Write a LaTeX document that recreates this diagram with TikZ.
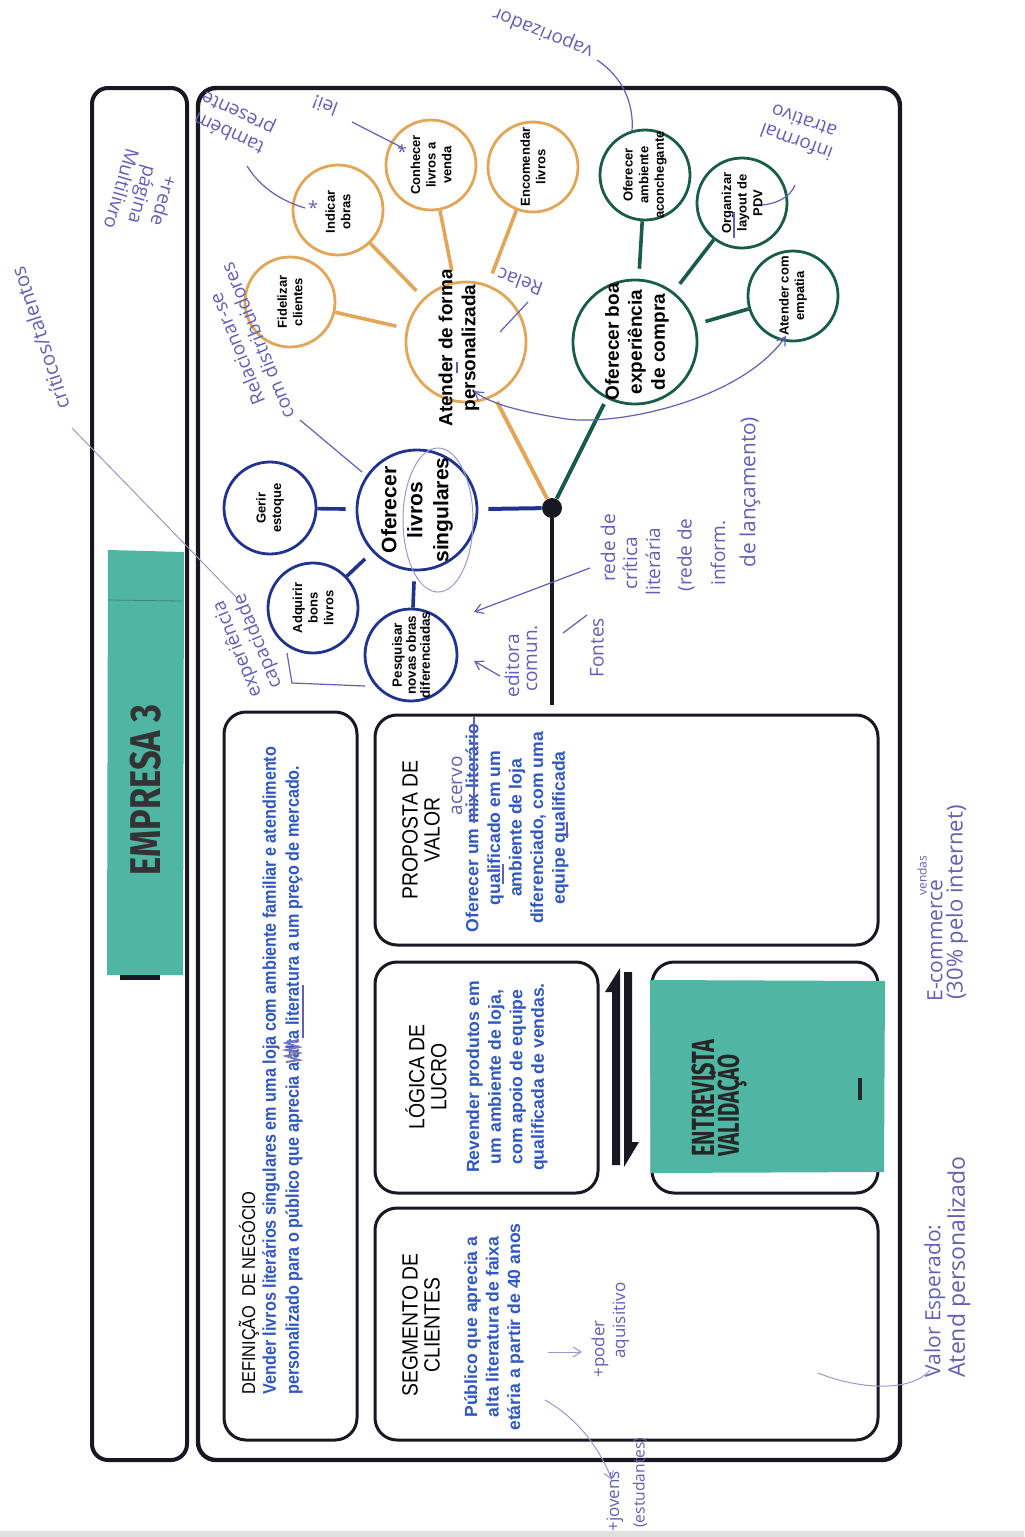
\documentclass[tikz,border=0pt]{standalone}
\usepackage{fontspec}
\setmainfont{Liberation Sans}
\newfontfamily\narrowf[FakeStretch=0.88]{Liberation Sans}
\newfontfamily\handf{Open Sans}
\newfontfamily\markf[FakeStretch=0.8]{Fira Sans}
\newfontfamily\markn[FakeStretch=0.68]{Fira Sans}
\usetikzlibrary{arrows.meta}
\definecolor{orng}{RGB}{226,166,88}
\definecolor{grn}{RGB}{26,92,74}
\definecolor{blu}{RGB}{32,52,142}
\definecolor{txtblue}{RGB}{48,88,192}
\definecolor{hand}{RGB}{98,96,178}
\definecolor{tealn}{RGB}{78,182,162}
\definecolor{frame}{RGB}{24,24,34}
\begin{document}
\begin{tikzpicture}[x=0.5pt,y=-0.5pt,
  circ/.style={circle, draw=#1, line width=1.4pt, minimum size=45pt, inner sep=0pt},
  ctxt/.style={rotate=90, align=center, inner sep=0pt, font=\bfseries\fontsize{6.5}{7.8}\selectfont},
  btxt/.style={rotate=90, align=center, inner sep=0pt, font=\bfseries\fontsize{9.5}{11.5}\selectfont},
  conn/.style={draw=#1, line width=1.8pt},
  panel/.style={draw=frame, line width=1.5pt, rounded corners=11pt},
  hd/.style={rotate=90, align=center, inner sep=0pt, font=\narrowf\fontsize{11}{11}\selectfont},
  bd/.style={rotate=90, align=center, inner sep=0pt, text=txtblue, font=\bfseries\fontsize{8.8}{10.8}\selectfont},
  hw/.style={text=hand, inner sep=0pt, align=center, font=\handf\fontsize{9.5}{11}\selectfont},
  hl/.style={draw=hand, line width=0.6pt},
  hlt/.style={draw=hand!65, line width=0.5pt},
  barb/.style={-{Straight Barb[length=4pt,width=5pt]}},
]
\useasboundingbox (0,0) rectangle (1024,1537);
\fill[white] (0,0) rectangle (1024,1537);
\fill[black!12] (0,1531) rectangle (1024,1537);

% ---------- frames ----------
\draw[draw=frame, line width=2pt, rounded corners=8pt] (92,88) rectangle (187,1460);
\draw[draw=frame, line width=2.2pt, rounded corners=9pt] (198,88) rectangle (900,1460);

% ---------- EMPRESA note ----------
\fill[tealn] (108,550) -- (184,552) -- (183,975) -- (107,975) -- cycle;
\draw[tealn!75!black, line width=0.4pt] (108,600) -- (183,601);
\fill[frame] (120,975) rectangle (160,980);
\node[rotate=90, text=black!80, font=\markf\bfseries\fontsize{21.5}{21.5}\selectfont] (emp) at (146,790) {EMPRESA 3};

% ---------- panels ----------
\draw[panel] (224,712) rectangle (357,1440);
\draw[panel] (375,715) rectangle (878,945);
\draw[panel] (375,962) rectangle (598,1193);
\draw[panel] (652,962) rectangle (878,1193);
\draw[panel] (375,1208) rectangle (878,1440);

% definition
\node[rotate=90, anchor=west, inner sep=0pt, font=\narrowf\fontsize{9.3}{11}\selectfont] (defh) at (249,1395) {DEFINIÇÃO\ \ DE NEGÓCIO};
\node[rotate=90, anchor=west, inner sep=0pt, text=txtblue, font=\narrowf\bfseries\fontsize{9.2}{11}\selectfont] (def1) at (271,1395) {Vender livros literários singulares em uma loja com ambiente familiar e atendimento};
\node[rotate=90, anchor=west, inner sep=0pt, text=txtblue, font=\narrowf\bfseries\fontsize{9.2}{11}\selectfont] (def2) at (294,1395) {personalizado para o público que aprecia a alta literatura a um preço de mercado.};

% proposta
\node[hd] (proph) at (421,830) {PROPOSTA DE\\VALOR};
\node[bd] (propb) at (517,828) {Oferecer um mix literário\\qualificado em um\\ambiente de loja\\diferenciado, com uma\\equipe qualificada};
% logica
\node[hd] (logh) at (426,1077) {LÓGICA DE\\LUCRO};
\node[bd] (logb) at (507,1077) {Revender produtos em\\um ambiente de loja,\\com apoio de equipe\\qualificada de vendas.};
% segmento
\node[hd] (segh) at (421,1325) {SEGMENTO DE\\CLIENTES};
\node[bd] (segb) at (494,1327) {Público que aprecia a\\alta literatura de faixa\\etária a partir de 40 anos};

% entrevista note
\fill[tealn] (650,980) -- (885,981) -- (884,1172) -- (651,1173) -- cycle;
\node[rotate=90, anchor=west, inner sep=0pt, text=black!85, font=\markn\bfseries\fontsize{16}{16}\selectfont] (entr) at (703,1157) {ENTREVISTA};
\node[rotate=90, anchor=west, inner sep=0pt, text=black!85, font=\markn\bfseries\fontsize{15}{15}\selectfont] (vali) at (729,1157) {VALIDAÇÃO};
\draw[line width=1.6pt, black!85] (860,1078) -- (860,1100);

% double harpoon
\fill[frame] (612,1165) -- (612,992) -- (605,992) -- (620,968) -- (620,1165) -- cycle;
\fill[frame] (624,972) -- (632,972) -- (632,1142) -- (639,1142) -- (624,1167) -- cycle;

% ---------- tree ----------
\node[circ=orng, minimum size=60pt] (A) at (466,342) {};
\node[circ=orng] (o1) at (290,302) {};
\node[circ=orng] (o2) at (338,210) {};
\node[circ=orng] (o3) at (431,165) {};
\node[circ=orng] (o4) at (533,167) {};
\node[circ=grn, minimum size=62pt] (G) at (635,342) {};
\node[circ=grn] (g1) at (645,175) {};
\node[circ=grn] (g2) at (742,203) {};
\node[circ=grn] (g3) at (793,296) {};
\node[circ=blu, minimum size=60pt] (B) at (417,510) {};
\node[circ=blu, minimum size=46pt] (b1) at (270,508) {};
\node[circ=blu] (b2) at (313,608) {};
\node[circ=blu, minimum size=46pt] (b3) at (411,655) {};
\node[circle, fill=frame, minimum size=10pt, inner sep=0pt] (hub) at (552,508) {};
\coordinate (trunk) at (552,705);

\node[btxt] (At) at (459,348) {Atender de forma\\personalizada};
\node[ctxt] (o1t) at (o1) {Fidelizar\\clientes};
\node[ctxt] (o2t) at (338,212) {Indicar\\obras};
\node[ctxt] (o3t) at (o3) {Conhecer\\livros a\\venda};
\node[ctxt] (o4t) at (o4) {Encomendar\\livros};
\node[btxt] (Gt) at (637,342) {Oferecer boa\\experiência\\de compra};
\node[ctxt] (g1t) at (g1) {Oferecer\\ambiente\\aconchegante};
\node[ctxt] (g2t) at (g2) {Organizar\\layout de\\PDV};
\node[ctxt] (g3t) at (g3) {Atender com\\empatia};
\node[rotate=90, align=center, inner sep=0pt, font=\bfseries\fontsize{10.5}{13}\selectfont] (Bt) at (B) {Oferecer\\livros\\singulares};
\node[ctxt] (b1t) at (b1) {Gerir\\estoque};
\node[ctxt] (b2t) at (b2) {Adquirir\\bons\\livros};
\node[ctxt, font=\bfseries\fontsize{6.7}{7}\selectfont] (b3t) at (b3) {Pesquisar\\novas obras\\diferenciadas};

\draw[conn=orng, shorten >=5pt] (o1) -- (A);
\draw[conn=orng, shorten >=5pt] (o2) -- (A);
\draw[conn=orng, shorten >=6pt] (o3) -- (A);
\draw[conn=orng, shorten >=6pt] (o4) -- (A);
\draw[conn=grn, shorten >=5pt] (g1) -- (G);
\draw[conn=grn, shorten >=5pt] (g2) -- (G);
\draw[conn=grn, shorten >=5pt] (g3) -- (G);
\draw[conn=blu, shorten >=5pt] (b1) -- (B);
\draw[conn=blu, shorten >=5pt] (b2) -- (B);
\draw[conn=blu, shorten >=5pt] (b3) -- (B);
\draw[conn=blu, line width=2pt, shorten >=5pt] (hub) -- (B);
\draw[conn=orng, line width=2pt, shorten >=3pt] (hub) -- (A);
\draw[conn=grn, line width=2pt, shorten >=3pt] (hub) -- (G);
\draw[draw=frame, line width=2pt] (hub) -- (trunk);

% ---------- handwriting ----------
\node[hw, rotate=158] (hvap) at (543,32) {vaporizador};
\coordinate (vap1) at (597,60);
\coordinate (vap2) at (632,131);
\draw[hl] (vap1) .. controls (624,78) and (634,105) .. (vap2);

\node[hw, rotate=160] (hlei) at (325,106) {lei!};
\coordinate (lei1) at (352,122);
\coordinate (lei2) at (403,148);
\draw[hl] (lei1) -- (lei2);
\node[font=\handf\fontsize{9}{9}\selectfont, text=hand] (star1) at (402,152) {*};
\node[font=\handf\fontsize{9}{9}\selectfont, text=hand] (star2) at (313,208) {*};

\node[hw, rotate=155] (htam) at (234,122) {também\\presente};
\coordinate (tam1) at (247,166);
\coordinate (tam2) at (305,208);
\draw[hl] (tam1) .. controls (262,190) and (285,202) .. (tam2);

\node[hw, rotate=-106] (hrede) at (143,195) {+rede\\página\\Multilivro};
\node[hw, rotate=108, font=\handf\fontsize{10}{11}\selectfont] (hcrit) at (40,338) {críticos/talentos};
\coordinate (crit1) at (72,428);
\coordinate (crit2) at (237,598);
\draw[hlt] (crit1) -- (crit2);

\node[hw, rotate=112] (hrel) at (247,345) {Relacionar-se\\com distribuidores};
\coordinate (rel1) at (300,420);
\coordinate (rel2) at (362,472);
\draw[hl] (rel1) -- (rel2);

\node[hw, rotate=160] (hrelac) at (520,282) {Relac};
\coordinate (rlc1) at (528,302);
\coordinate (rlc2) at (500,332);
\draw[hl] (rlc1) -- (rlc2);

\node[hw, rotate=160] (hinf) at (800,132) {informal\\atrativo};
\coordinate (inf1) at (795,185);
\coordinate (inf2) at (762,205);
\draw[hl] (inf1) .. controls (790,198) and (775,204) .. (inf2);

\coordinate (emp1) at (786,336);
\coordinate (emp2) at (474,391);
\draw[hl, {Straight Barb[length=4pt,width=5pt]}-{Straight Barb[length=4pt,width=5pt]}] (emp1) .. controls (740,402) and (610,428) .. (560,418) .. controls (525,412) and (492,405) .. (emp2);

\draw[hlt] (438,520) ellipse [x radius=35, y radius=72];

\node[hw, rotate=112] (hexp) at (248,645) {experiência\\capacidade};
\coordinate (br1) at (287,653);
\coordinate (br2) at (365,686);
\draw[hl] (br1) -- (292,683) -- (br2);

\node[hw, rotate=90, anchor=west] (r1) at (608,582) {rede de};
\node[hw, rotate=90, anchor=west] (r2) at (630,590) {crítica};
\node[hw, rotate=90, anchor=west] (r3) at (653,596) {literária};
\node[hw, rotate=90, anchor=west] (r4) at (686,592) {(rede de};
\node[hw, rotate=90, anchor=west] (r5) at (718,586) {inform.};
\node[hw, rotate=90, anchor=west, font=\handf\fontsize{10.4}{11}\selectfont] (r6) at (750,568) {de lançamento)};
\coordinate (ra1) at (590,568);
\coordinate (ra2) at (474,612);
\draw[hl, barb] (ra1) -- (ra2);

\node[hw, rotate=90, anchor=west] (ed1) at (512,698) {editora};
\node[hw, rotate=90, anchor=west] (ed2) at (532,692) {comun.};
\coordinate (ea1) at (500,676);
\coordinate (ea2) at (474,661);
\draw[hl, barb] (ea1) -- (ea2);

\node[hw, rotate=90, anchor=west] (fon) at (597,678) {Fontes};
\coordinate (fs1) at (563,633);
\coordinate (fs2) at (587,615);
\draw[hl] (fs1) -- (fs2);

% proposta corrections
\draw[hl, line width=0.8pt] (474,823) -- (474,716);
\node[hw, rotate=90] (acer) at (457,786) {acervo};
\draw[hl] (503,884) -- (503,864);
\draw[hl] (567,838) -- (567,822);
\draw[hl] (734,238) -- (734,212);
\draw[hl] (457,373) -- (457,362);
\draw[hand!85, line width=1pt] (286,1062) -- (299,1060) -- (286,1056) -- (299,1053) -- (286,1050) -- (299,1047) -- (286,1043) -- (299,1040);
\draw[hl, line width=0.9pt] (303,1038) -- (303,985);

% segmento notes
\coordinate (pa1) at (548,1352);
\coordinate (pa2) at (582,1352);
\draw[hlt, barb] (pa1) -- (pa2);
\node[hw, rotate=90, anchor=west, font=\handf\fontsize{8.5}{9}\selectfont] (pod1) at (600,1378) {+poder};
\node[hw, rotate=90, anchor=west, font=\handf\fontsize{8.5}{9}\selectfont] (pod2) at (621,1359) {aquisitivo};

\coordinate (jv1) at (545,1400);
\coordinate (jv2) at (612,1480);
\draw[hlt, barb] (jv1) .. controls (580,1420) and (600,1450) .. (jv2);
\node[hw, rotate=90, anchor=west, font=\handf\fontsize{8.5}{9}\selectfont] (jov1) at (615,1532) {+jovens};
\node[hw, rotate=90, anchor=west, font=\handf\fontsize{7.8}{9}\selectfont] (jov2) at (640,1528) {(estudantes)};

\coordinate (ve1) at (818,1373);
\coordinate (ve2) at (930,1370);
\draw[hlt] (ve1) .. controls (860,1390) and (912,1392) .. (ve2);
\node[hw, rotate=90, anchor=west, font=\handf\fontsize{10.5}{11}\selectfont] (val1) at (935,1378) {Valor Esperado:};
\node[hw, rotate=90, anchor=west, font=\handf\fontsize{11.5}{12}\selectfont] (val2) at (959,1378) {Atend personalizado};

\node[hw, rotate=90, anchor=west, font=\handf\fontsize{10.5}{11}\selectfont] (ec1) at (935,1002) {E-commerce};
\node[hw, rotate=90, anchor=west, font=\handf\fontsize{6}{7}\selectfont] (ec2) at (922,896) {vendas};
\node[hw, rotate=90, anchor=west, font=\handf\fontsize{11}{12}\selectfont] (ec3) at (957,1000) {(30\% pelo internet)};
\end{tikzpicture}
\end{document}
